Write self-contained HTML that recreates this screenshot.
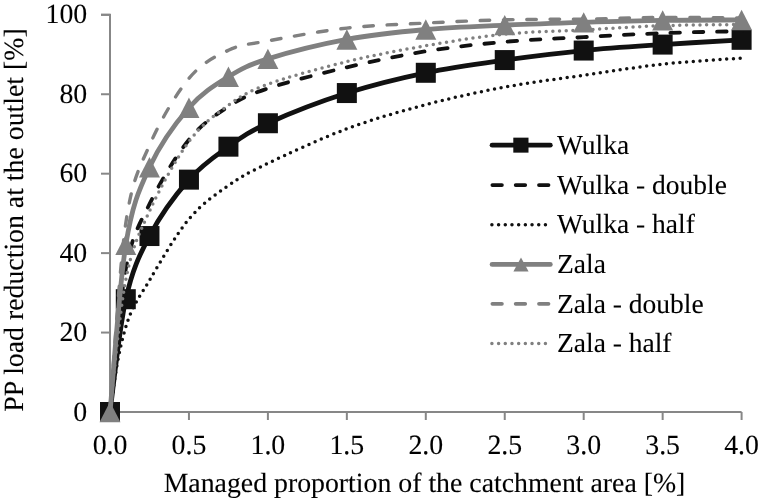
<!DOCTYPE html>
<html><head><meta charset="utf-8"><style>
html,body{margin:0;padding:0;background:#fff;width:759px;height:498px;overflow:hidden}
svg{display:block;font-family:"Liberation Serif",serif;fill:#000;will-change:transform;text-rendering:geometricPrecision}
text{stroke:#000;stroke-width:0.1px}
</style></head><body>
<svg width="759" height="498" viewBox="0 0 759 498">
<path d="M101,14.80 H110 V412.0 H741.6" fill="none" stroke="#878787" stroke-width="2"/>
<line x1="101" y1="412.00" x2="110" y2="412.00" stroke="#878787" stroke-width="2"/>
<line x1="101" y1="332.56" x2="110" y2="332.56" stroke="#878787" stroke-width="2"/>
<line x1="101" y1="253.12" x2="110" y2="253.12" stroke="#878787" stroke-width="2"/>
<line x1="101" y1="173.68" x2="110" y2="173.68" stroke="#878787" stroke-width="2"/>
<line x1="101" y1="94.24" x2="110" y2="94.24" stroke="#878787" stroke-width="2"/>
<line x1="101" y1="14.80" x2="110" y2="14.80" stroke="#878787" stroke-width="2"/>
<line x1="110.00" y1="412.0" x2="110.00" y2="420" stroke="#878787" stroke-width="2"/>
<line x1="188.95" y1="412.0" x2="188.95" y2="420" stroke="#878787" stroke-width="2"/>
<line x1="267.90" y1="412.0" x2="267.90" y2="420" stroke="#878787" stroke-width="2"/>
<line x1="346.85" y1="412.0" x2="346.85" y2="420" stroke="#878787" stroke-width="2"/>
<line x1="425.80" y1="412.0" x2="425.80" y2="420" stroke="#878787" stroke-width="2"/>
<line x1="504.75" y1="412.0" x2="504.75" y2="420" stroke="#878787" stroke-width="2"/>
<line x1="583.70" y1="412.0" x2="583.70" y2="420" stroke="#878787" stroke-width="2"/>
<line x1="662.65" y1="412.0" x2="662.65" y2="420" stroke="#878787" stroke-width="2"/>
<line x1="741.60" y1="412.0" x2="741.60" y2="420" stroke="#878787" stroke-width="2"/>
<path d="M110.00,412.00 C112.63,393.20 119.21,328.52 125.79,299.20 C132.37,269.87 138.95,255.97 149.47,236.04 C160.00,216.11 175.79,194.53 188.95,179.64 C202.11,164.74 215.27,156.07 228.43,146.67 C241.58,137.27 248.16,132.17 267.90,123.24 C287.64,114.30 320.53,101.46 346.85,93.05 C373.17,84.64 399.48,78.29 425.80,72.79 C452.12,67.30 478.43,63.79 504.75,60.08 C531.07,56.37 557.38,53.13 583.70,50.55 C610.02,47.97 636.33,46.38 662.65,44.59 C688.97,42.80 728.44,40.62 741.60,39.82" fill="none" stroke="#111111" stroke-width="4.8" />
<rect x="100.00" y="402.00" width="20" height="20" fill="#111111"/>
<rect x="115.79" y="289.20" width="20" height="20" fill="#111111"/>
<rect x="139.47" y="226.04" width="20" height="20" fill="#111111"/>
<rect x="178.95" y="169.64" width="20" height="20" fill="#111111"/>
<rect x="218.43" y="136.67" width="20" height="20" fill="#111111"/>
<rect x="257.90" y="113.24" width="20" height="20" fill="#111111"/>
<rect x="336.85" y="83.05" width="20" height="20" fill="#111111"/>
<rect x="415.80" y="62.79" width="20" height="20" fill="#111111"/>
<rect x="494.75" y="50.08" width="20" height="20" fill="#111111"/>
<rect x="573.70" y="40.55" width="20" height="20" fill="#111111"/>
<rect x="652.65" y="34.59" width="20" height="20" fill="#111111"/>
<rect x="731.60" y="29.82" width="20" height="20" fill="#111111"/>
<path d="M110.00,412.00 C112.63,388.15 119.21,303.58 125.79,268.93 C132.37,234.28 138.95,225.65 149.47,204.11 C160.00,182.56 175.79,155.93 188.95,139.68 C202.11,123.43 215.27,115.14 228.43,106.59 C241.58,98.05 248.16,94.95 267.90,88.40 C287.64,81.85 320.53,73.50 346.85,67.31 C373.17,61.12 399.48,55.51 425.80,51.26 C452.12,47.01 478.43,44.16 504.75,41.81 C531.07,39.46 557.38,38.61 583.70,37.16 C610.02,35.72 636.33,34.15 662.65,33.15 C688.97,32.15 728.44,31.50 741.60,31.16" fill="none" stroke="#111111" stroke-width="3.8" stroke-dasharray="9.5 13.8" stroke-linecap="round"/>
<path d="M110.00,412.00 C112.63,397.83 115.53,361.23 125.79,327.00 C132.37,305.05 138.95,298.31 149.47,280.33 C160.00,262.34 175.79,234.87 188.95,219.08 C202.11,203.29 215.27,194.88 228.43,185.60 C241.58,176.31 248.16,172.86 267.90,163.39 C287.64,153.93 320.53,138.59 346.85,128.80 C373.17,119.01 399.48,111.60 425.80,104.65 C452.12,97.70 478.43,91.99 504.75,87.09 C531.07,82.19 557.38,79.07 583.70,75.25 C610.02,71.43 636.33,67.03 662.65,64.17 C688.97,61.31 728.44,59.11 741.60,58.09" fill="none" stroke="#111111" stroke-width="3.5" stroke-dasharray="0 6.69" stroke-linecap="round"/>
<path d="M110.00,412.00 C112.63,384.13 119.21,285.56 125.79,244.78 C132.37,204.00 138.95,190.16 149.47,167.32 C160.00,144.49 175.79,122.84 188.95,107.74 C202.11,92.65 215.27,84.91 228.43,76.76 C241.58,68.62 248.16,65.11 267.90,58.89 C287.64,52.67 320.53,44.33 346.85,39.43 C373.17,34.53 399.48,31.88 425.80,29.50 C452.12,27.11 478.43,26.32 504.75,25.13 C531.07,23.94 557.38,23.14 583.70,22.35 C610.02,21.55 636.33,20.76 662.65,20.36 C688.97,19.96 728.44,20.03 741.60,19.96" fill="none" stroke="#808080" stroke-width="4.8" />
<path d="M110.00,401.80 L120.50,422.20 L99.50,422.20Z" fill="#808080"/>
<path d="M125.79,234.58 L136.29,254.98 L115.29,254.98Z" fill="#808080"/>
<path d="M149.47,157.12 L159.97,177.52 L138.97,177.52Z" fill="#808080"/>
<path d="M188.95,97.54 L199.45,117.94 L178.45,117.94Z" fill="#808080"/>
<path d="M228.43,66.56 L238.93,86.96 L217.93,86.96Z" fill="#808080"/>
<path d="M267.90,48.69 L278.40,69.09 L257.40,69.09Z" fill="#808080"/>
<path d="M346.85,29.23 L357.35,49.63 L336.35,49.63Z" fill="#808080"/>
<path d="M425.80,19.30 L436.30,39.70 L415.30,39.70Z" fill="#808080"/>
<path d="M504.75,14.93 L515.25,35.33 L494.25,35.33Z" fill="#808080"/>
<path d="M583.70,12.15 L594.20,32.55 L573.20,32.55Z" fill="#808080"/>
<path d="M662.65,10.16 L673.15,30.56 L652.15,30.56Z" fill="#808080"/>
<path d="M741.60,9.76 L752.10,30.16 L731.10,30.16Z" fill="#808080"/>
<path d="M110.00,412.00 C112.63,380.55 119.21,267.74 125.79,223.29 C132.37,178.84 138.95,169.46 149.47,145.32 C160.00,121.18 175.79,94.27 188.95,78.43 C202.11,62.59 215.27,56.52 228.43,50.27 C241.58,44.02 248.16,44.64 267.90,40.94 C287.64,37.24 320.53,31.05 346.85,28.07 C373.17,25.09 399.48,24.44 425.80,23.06 C452.12,21.68 478.43,20.47 504.75,19.80 C531.07,19.14 557.38,19.48 583.70,19.09 C610.02,18.70 636.33,17.64 662.65,17.46 C688.97,17.28 728.44,17.92 741.60,18.02" fill="none" stroke="#808080" stroke-width="3.4" stroke-dasharray="9.5 13.8" stroke-linecap="round"/>
<path d="M110.00,412.00 C112.63,389.95 119.21,313.16 125.79,279.69 C132.37,246.23 138.95,234.25 149.47,211.22 C160.00,188.18 175.79,159.18 188.95,141.51 C202.11,123.83 215.27,114.70 228.43,105.16 C241.58,95.62 248.16,91.53 267.90,84.27 C287.64,77.01 320.53,68.05 346.85,61.63 C373.17,55.21 399.48,50.32 425.80,45.74 C452.12,41.16 478.43,36.79 504.75,34.14 C531.07,31.50 557.38,31.30 583.70,29.89 C610.02,28.48 636.33,26.58 662.65,25.68 C688.97,24.79 728.44,24.72 741.60,24.53" fill="none" stroke="#808080" stroke-width="3.5" stroke-dasharray="0 6.69" stroke-linecap="round"/>
<line x1="492.1" y1="145.15" x2="550.3" y2="145.15" stroke="#111111" stroke-width="4.8" stroke-linecap="round"/>
<rect x="513.3" y="137.65" width="15.2" height="15" fill="#111111"/>
<text x="557" y="153.85" font-size="27.5">Wulka</text>
<line x1="492.4" y1="185.05" x2="550" y2="185.05" stroke="#111111" stroke-width="3.8" stroke-dasharray="9.5 13.8" stroke-linecap="round"/>
<text x="557" y="193.75" font-size="27.5">Wulka - double</text>
<line x1="491.9" y1="224.7" x2="546" y2="224.7" stroke="#111111" stroke-width="3.5" stroke-dasharray="0 6.69" stroke-linecap="round"/>
<text x="557" y="233.39999999999998" font-size="27.5">Wulka - half</text>
<line x1="492.1" y1="264.4" x2="550.3" y2="264.4" stroke="#808080" stroke-width="4.8" stroke-linecap="round"/>
<path d="M521,257.4 L528.6,271.59999999999997 L513.4,271.59999999999997Z" fill="#808080"/>
<text x="557" y="273.09999999999997" font-size="27.5">Zala</text>
<line x1="492.4" y1="303.8" x2="550" y2="303.8" stroke="#808080" stroke-width="3.8" stroke-dasharray="9.5 13.8" stroke-linecap="round"/>
<text x="557" y="312.5" font-size="27.5">Zala - double</text>
<line x1="491.9" y1="343.4" x2="546" y2="343.4" stroke="#808080" stroke-width="3.5" stroke-dasharray="0 6.69" stroke-linecap="round"/>
<text x="557" y="352.09999999999997" font-size="27.5">Zala - half</text>
<text x="87.2" y="420.50" font-size="27.8" text-anchor="end">0</text>
<text x="87.2" y="341.06" font-size="27.8" text-anchor="end">20</text>
<text x="87.2" y="261.62" font-size="27.8" text-anchor="end">40</text>
<text x="87.2" y="182.18" font-size="27.8" text-anchor="end">60</text>
<text x="87.2" y="102.74" font-size="27.8" text-anchor="end">80</text>
<text x="87.2" y="23.30" font-size="27.8" text-anchor="end">100</text>
<text x="110.00" y="453.5" font-size="27.8" text-anchor="middle">0.0</text>
<text x="188.95" y="453.5" font-size="27.8" text-anchor="middle">0.5</text>
<text x="267.90" y="453.5" font-size="27.8" text-anchor="middle">1.0</text>
<text x="346.85" y="453.5" font-size="27.8" text-anchor="middle">1.5</text>
<text x="425.80" y="453.5" font-size="27.8" text-anchor="middle">2.0</text>
<text x="504.75" y="453.5" font-size="27.8" text-anchor="middle">2.5</text>
<text x="583.70" y="453.5" font-size="27.8" text-anchor="middle">3.0</text>
<text x="662.65" y="453.5" font-size="27.8" text-anchor="middle">3.5</text>
<text x="741.60" y="453.5" font-size="27.8" text-anchor="middle">4.0</text>
<text x="424.5" y="491.8" font-size="27.8" text-anchor="middle">Managed proportion of the catchment area [%]</text>
<text transform="translate(23.3,220) rotate(-90)" x="0" y="0" font-size="27.8" text-anchor="middle">PP load reduction at the outlet [%]</text>
</svg></body></html>
